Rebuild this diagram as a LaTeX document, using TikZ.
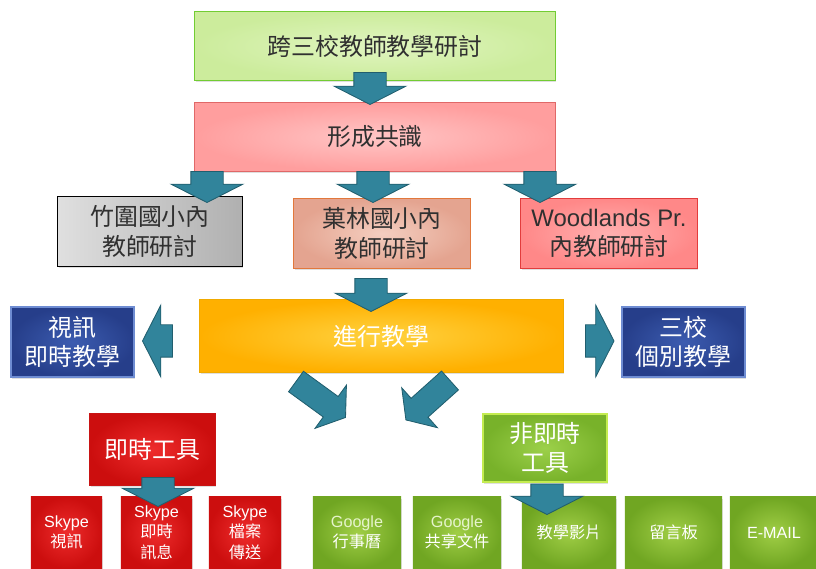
\documentclass[tikz,border=0pt]{standalone}
\usepackage{fontspec}
\setmainfont{Noto Sans CJK TC}
\newfontfamily\latfont{Liberation Sans}
\usepackage{tikz}
\usetikzlibrary{calc,shadows}
\definecolor{arrfill}{HTML}{31849B}
\definecolor{arrdraw}{HTML}{215E6E}
\definecolor{txtdark}{HTML}{303030}
\definecolor{txtpale}{HTML}{E6F4CC}
\newcommand{\shaftw}{11.5pt}
\newcommand{\headw}{25.5pt}
\newcommand{\headlen}{13pt}
% block arrow from #1 to #2
\newcommand{\blockarrow}[2]{%
  \path #1 coordinate (ba_s) #2 coordinate (ba_t);
  \path ($(ba_t)!\headlen!(ba_s)$) coordinate (ba_h);
  \draw[blk] ($(ba_s)!\shaftw!90:(ba_t)$) -- ($(ba_h)!\shaftw!90:(ba_t)$)
    -- ($(ba_h)!\headw!90:(ba_t)$) -- (ba_t) -- ($(ba_h)!\headw!-90:(ba_t)$)
    -- ($(ba_h)!\shaftw!-90:(ba_t)$) -- ($(ba_s)!\shaftw!-90:(ba_t)$) -- cycle;
}
\tikzset{
  box/.style = {rectangle, align=center, inner sep=0pt, text centered,
    font=\fontsize{17}{21}\selectfont, line width=0.7pt,
    drop shadow={shadow xshift=0.8pt, shadow yshift=-1.2pt, opacity=0.25}},
  box_top/.style = {box, txtdark, draw=green!45!lime!60!gray,
    inner color={rgb,255:red,224;green,245;blue,192},
    outer color={rgb,255:red,204;green,236;blue,156}},% niveau 1
  box_pink/.style = {box, txtdark, draw={rgb,255:red,224;green,104;blue,104},
    inner color={rgb,255:red,255;green,198;blue,198},
    outer color={rgb,255:red,255;green,158;blue,158}},
  box_gray/.style = {box, txtdark, draw=black,
    left color=gray!25, right color=gray!62},
  box_peach/.style = {box, txtdark, draw={rgb,255:red,226;green,120;blue,60},
    inner color={rgb,255:red,244;green,206;blue,192},
    outer color={rgb,255:red,228;green,164;blue,144}},
  box_wood/.style = {box, txtdark, draw={rgb,255:red,226;green,60;blue,60},
    inner color={rgb,255:red,255;green,176;blue,176},
    outer color={rgb,255:red,255;green,136;blue,136}},
  box_orange/.style = {box, white, draw={rgb,255:red,240;green,170;blue,0},
    inner color={rgb,255:red,255;green,210;blue,64},
    outer color={rgb,255:red,255;green,176;blue,0}},
  box_blue/.style = {box, white, draw={rgb,255:red,110;green,140;blue,210},
    line width=1.4pt, inner color={rgb,255:red,60;green,92;blue,176},
    outer color={rgb,255:red,38;green,62;blue,138}},
  box_red/.style = {box, white, draw={rgb,255:red,200;green,20;blue,20},
    inner color={rgb,255:red,238;green,44;blue,44},
    outer color={rgb,255:red,204;green,14;blue,14}},
  box_lime/.style = {box, white, draw={rgb,255:red,196;green,236;blue,80},
    line width=1.5pt, inner color={rgb,255:red,156;green,208;blue,74},
    outer color={rgb,255:red,120;green,178;blue,42}},
  tool_red/.style = {box_red, draw=none, minimum height=1.775cm,
    font=\fontsize{11.5}{14.5}\selectfont},% outils rouges
  tool_green/.style = {box, white, minimum height=1.775cm,
    inner color={rgb,255:red,160;green,206;blue,70},
    outer color={rgb,255:red,112;green,166;blue,34},
    font=\fontsize{11.5}{14.5}\selectfont},% outils verts
  blk/.style = {fill=arrfill, draw=arrdraw, line width=0.6pt, line join=miter}
}
\begin{document}
\begin{tikzpicture}[x=0.025cm, y=-0.025cm]
\useasboundingbox (0,0) rectangle (816,569);
\node[box_top, minimum width=9cm, minimum height=1.7cm] (top) at (375,46) {跨三校教師教學研討};
\node[box_pink, minimum width=9cm, minimum height=1.7cm] (consensus) at (375,137) {形成共識};
\node[box_gray, minimum width=4.6cm, minimum height=1.725cm] (zw) at (150,231.5) {竹圍國小內\\教師研討};
\node[box_peach, minimum width=4.4cm, minimum height=1.725cm] (yl) at (382,233.5) {菓林國小內\\教師研討};
\node[box_wood, minimum width=4.4cm, minimum height=1.725cm] (wl) at (609,233.5) {{\latfont Woodlands Pr.}\\內教師研討};
\node[box_orange, minimum width=9.075cm, minimum height=1.8cm] (teach) at (381.5,336) {進行教學};
\node[box_blue, minimum width=3.075cm, minimum height=1.75cm] (video) at (72.5,342) {視訊\\即時教學};
\node[box_blue, minimum width=3.075cm, minimum height=1.75cm] (sep) at (683.5,342) {三校\\個別教學};
\node[box_red, minimum width=3.125cm, minimum height=1.775cm] (realtime) at (152.5,449.5) {即時工具};
\node[box_lime, minimum width=3.1cm, minimum height=1.7cm] (async) at (545,448) {非即時\\工具};
% outils
\node[tool_red, minimum width=1.775cm] (rt1) at (66.5,532.5) {{\latfont Skype}\\視訊};
\node[tool_red, minimum width=1.775cm] (rt2) at (156.5,532.5) {{\latfont Skype}\\即時\\訊息};
\node[tool_red, minimum width=1.8cm] (rt3) at (245,532.5) {{\latfont Skype}\\檔案\\傳送};
\node[tool_green, minimum width=2.2cm] (g1) at (357,532.5) {{\latfont\color{txtpale} Google}\\行事曆};
\node[tool_green, minimum width=2.2cm] (g2) at (457,532.5) {{\latfont\color{txtpale} Google}\\共享文件};
\node[tool_green, minimum width=2.35cm] (g3) at (569,532.5) {教學影片};
\node[tool_green, minimum width=2.425cm] (g4) at (673.5,532.5) {留言板};
\node[tool_green, minimum width=2.2cm] (g5) at (774,532.5) {{\latfont E-MAIL}};
% fleches
\blockarrow{($(top.south)+(-5,-8)$)}{($(consensus.north)+(-5,2)$)}
\blockarrow{($(consensus.south)+(-168,0)$)}{($(zw.north)+(57,6)$)}
\blockarrow{($(consensus.south)+(-2,0)$)}{($(yl.north)+(-9,4)$)}
\blockarrow{($(consensus.south)+(165,0)$)}{($(wl.north)+(-69,4)$)}
\blockarrow{($(yl.south)+(-11,10)$)}{($(teach.north)+(-10.5,12)$)}
\blockarrow{($(teach.west)+(-27,5)$)}{($(video.east)+(7.5,-1)$)}
\blockarrow{($(teach.east)+(22,5)$)}{($(sep.west)+(-7,-1)$)}
{\renewcommand{\shaftw}{9pt}\renewcommand{\headw}{19pt}% fleches obliques
\blockarrow{($(teach.south)+(-85.5,9)$)}{($(realtime.north east)+(130,4)$)}
\blockarrow{($(teach.south)+(68.5,8)$)}{($(async.north west)+(-76,7)$)}
}
\blockarrow{($(realtime.south)+(5.5,-8)$)}{($(rt2.north)+(1.5,10)$)}
\blockarrow{($(async.south)+(2,1)$)}{($(g3.north)+(-22,18)$)}
\end{tikzpicture}
\end{document}
